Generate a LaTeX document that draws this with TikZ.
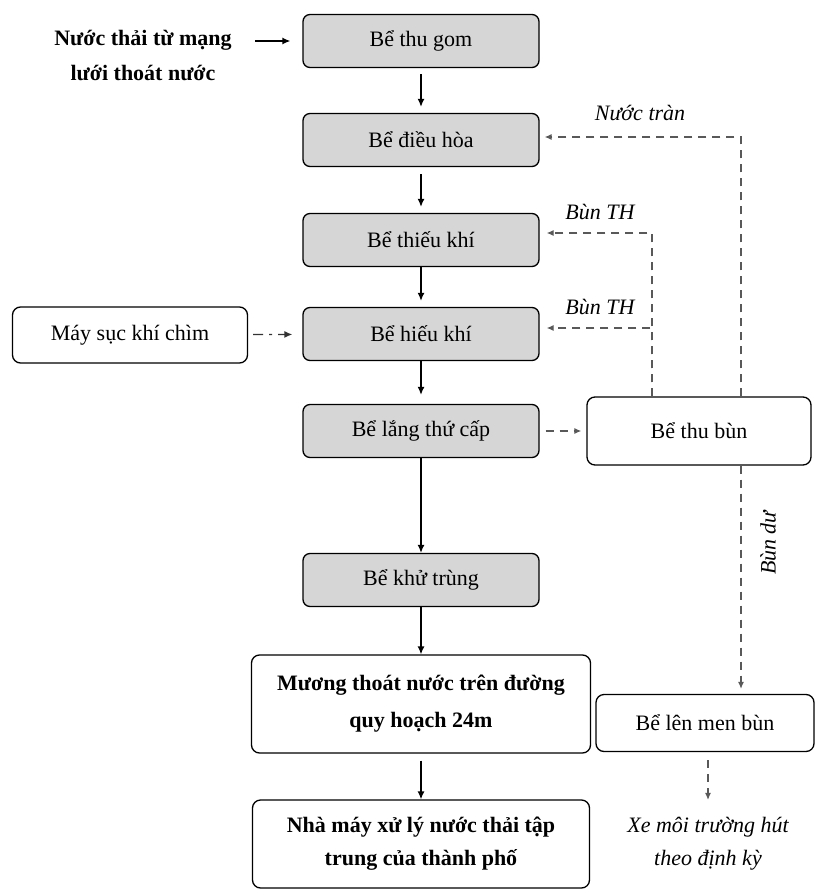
\documentclass[tikz,border=0pt]{standalone}
\usepackage{fontspec}
\setmainfont{Liberation Serif}
\usetikzlibrary{arrows.meta,positioning}

\begin{document}
\begin{tikzpicture}[x=1pt, y=-1pt,
    every node/.style={font=\fontsize{22}{34}\selectfont},
    tank/.style={draw, line width=1.3pt, rounded corners=7pt, fill=black!16, minimum width=236pt, minimum height=53pt, inner sep=2pt},
    wbox/.style={draw, line width=1.3pt, rounded corners=8pt, fill=white, align=center, inner sep=2pt},
    lbl/.style={font=\fontsize{22}{34}\selectfont\itshape},
    flow/.style={-{Latex[length=8pt,width=7pt]}, line width=1.3pt},
    recyc/.style={-{Latex[length=7pt,width=6pt]}, line width=1.2pt, black!65, dash pattern=on 8pt off 6pt},
    aer/.style={-{Latex[length=8pt,width=7pt]}, line width=1.3pt, black!80, dash pattern=on 10pt off 6pt on 3pt off 6pt}
]
    \useasboundingbox (0,0) rectangle (815,891);

    % main line
    \node[tank] (thugom) at (421,41) {Bể thu gom};
    \node[tank] (dieuhoa) at (421,140) {Bể điều hòa};
    \node[tank] (thieukhi) at (421,240) {Bể thiếu khí};
    \node[tank] (hieukhi) at (421,334) {Bể hiếu khí};
    \node[tank] (lang) at (421,431) {Bể lắng thứ cấp};
    \node[tank] (khutrung) at (421,580) {Bể khử trùng};
    \node[wbox, minimum width=339pt, minimum height=98pt, font=\fontsize{22}{37}\selectfont\bfseries] (muong) at (421,704) {Mương thoát nước trên đường\\quy hoạch 24m};
    \node[wbox, minimum width=337pt, minimum height=88pt, font=\fontsize{22}{33}\selectfont\bfseries] (nhamay) at (421,844) {Nhà máy xử lý nước thải tập\\trung của thành phố};

    % side nodes
    \node[align=center, font=\fontsize{22}{35}\selectfont\bfseries] (src) at (143,55) {Nước thải từ mạng\\lưới thoát nước};
    \node[wbox, minimum width=235pt, minimum height=56pt] (may) at (130,335) {Máy sục khí chìm};
    \node[wbox, minimum width=224pt, minimum height=68pt] (thubun) at (699,431) {Bể thu bùn};
    \node[wbox, minimum width=218pt, minimum height=57pt] (lenmen) at (705,723) {Bể lên men bùn};
    \node[lbl, align=center, font=\fontsize{22}{33}\selectfont\itshape] (xe) at (708,844) {Xe môi trường hút\\theo định kỳ};

    % labels
    \node[lbl] (ltran) at (640,113) {Nước tràn};
    \node[lbl] (lth1) at (600,212) {Bùn TH};
    \node[lbl] (lth2) at (600,307) {Bùn TH};
    \node[lbl, rotate=90] (ldu) at (768,543) {Bùn dư};

    \draw[flow, shorten <=20pt, shorten >=12pt] (src.east |- thugom.west) -- (thugom.west);
    \draw[flow, shorten <=6pt, shorten >=6pt] (thugom) -- (dieuhoa);
    \draw[flow, shorten <=7pt, shorten >=6pt] (dieuhoa) -- (thieukhi);
    \draw[flow, shorten >=6pt] (thieukhi) -- (hieukhi);
    \draw[flow, shorten >=9pt] (hieukhi) -- (lang);
    \draw[flow] (lang) -- (khutrung);
    \draw[flow] (khutrung) -- (muong);
    \draw[flow, shorten <=7pt] (muong) -- (nhamay);

    \draw[aer, shorten <=5pt, shorten >=10pt] (may) -- (hieukhi);
    \draw[recyc, shorten <=6pt, shorten >=5pt] (lang) -- (thubun);
    \draw[recyc, shorten >=5pt] ([xshift=42pt]thubun.north) |- ([yshift=3pt]dieuhoa.east);
    \draw[recyc, shorten >=7pt] ([xshift=-47pt]thubun.north) |- ([yshift=7pt]thieukhi.east);
    \draw[recyc, shorten >=7pt] ([xshift=-47pt]thubun.north) |- ([yshift=6pt]hieukhi.east);
    \draw[recyc, shorten >=5pt] ([xshift=42pt]thubun.south) -- ([xshift=36pt]lenmen.north);
    \draw[recyc, shorten <=8pt, shorten >=14pt] ([xshift=3pt]lenmen.south) -- (xe.north);
\end{tikzpicture}
\end{document}
